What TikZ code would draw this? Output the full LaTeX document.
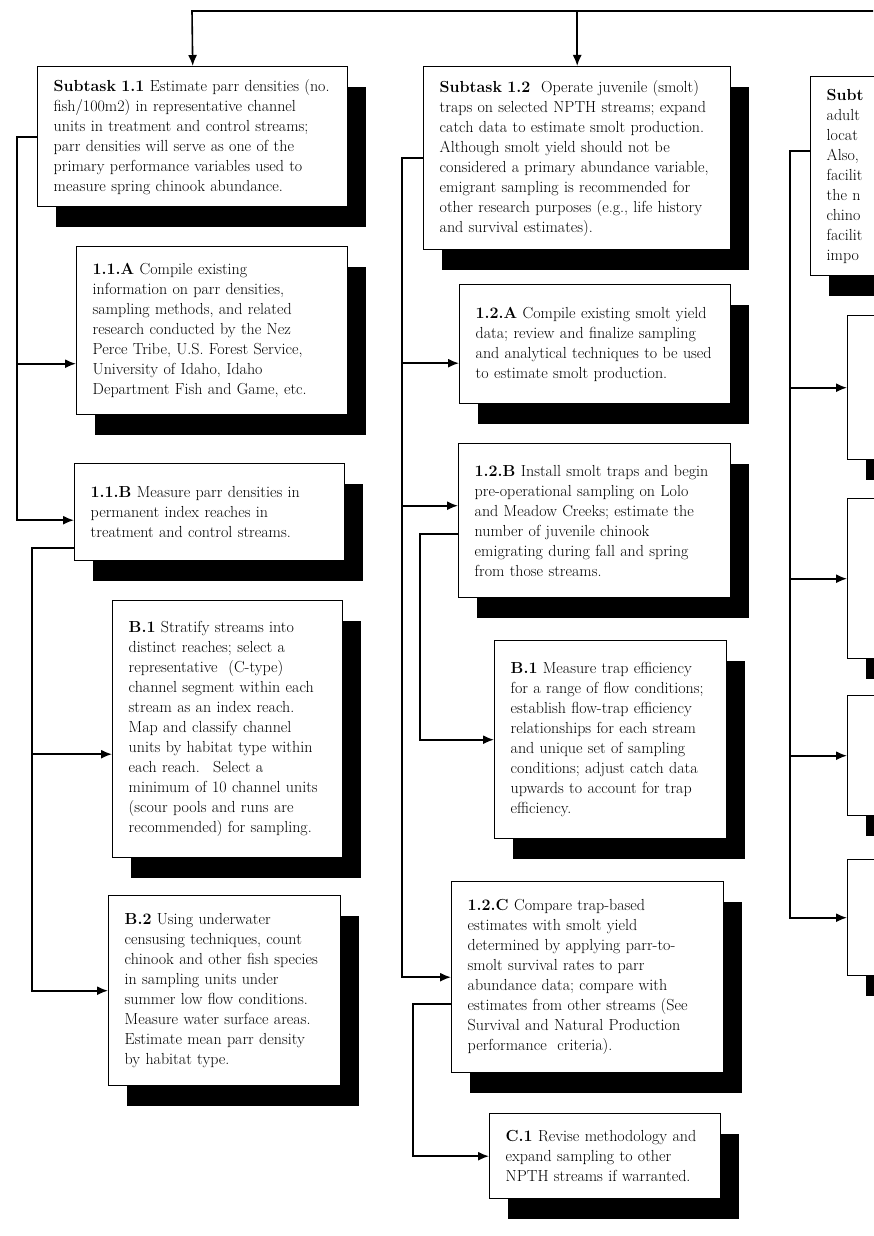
\documentclass[tikz,border=0pt]{standalone}
\usepackage{tikz}
\usetikzlibrary{arrows.meta,shadows}
\tikzstyle{taskbox} = [draw=black, fill=white, line width=1.4pt, rectangle, anchor=north west,
    inner xsep=16pt, inner ysep=6pt, align=left, font=\fontsize{16}{20}\selectfont,
    general shadow={fill=black, shadow xshift=18pt, shadow yshift=-20pt}]
\tikzstyle{link} = [line width=1.6pt]
\tikzstyle{feed} = [line width=1.6pt, -{Latex[length=11pt,width=9pt]}]

\begin{document}
\begin{tikzpicture}[x=1pt,y=-1pt]
\fill[white] (0,0) rectangle (873,1236);
\useasboundingbox (0,0) rectangle (873,1236);

\node[taskbox, text width=278pt, minimum height=140pt] (s11) at (37,66) {%
    \textbf{Subtask 1.1} Estimate parr densities (no.\\
    fish/100m2) in representative channel\\
    units in treatment and control streams;\\
    parr densities will serve as one of the\\
    primary performance variables used to\\
    measure spring chinook abundance.};
\node[taskbox, text width=239pt, minimum height=168pt] (a11) at (76,246) {%
    \textbf{1.1.A} Compile existing\\
    information on parr densities,\\
    sampling methods, and related\\
    research conducted by the Nez\\
    Perce Tribe, U.S. Forest Service,\\
    University of Idaho, Idaho\\
    Department Fish and Game, etc.};
\node[taskbox, text width=238pt, minimum height=97pt] (b11) at (74,463) {%
    \textbf{1.1.B} Measure parr densities in\\
    permanent index reaches in\\
    treatment and control streams.};
\node[taskbox, text width=198pt, minimum height=257pt] (b1) at (112,600) {%
    \textbf{B.1} Stratify streams into\\
    distinct reaches; select a\\
    representative \ (C-type)\\
    channel segment within each\\
    stream as an index reach.\\
    Map and classify channel\\
    units by habitat type within\\
    each reach. \ Select a\\
    minimum of 10 channel units\\
    (scour pools and runs are\\
    recommended) for sampling.};
\node[taskbox, text width=200pt, minimum height=190pt] (b2) at (108,895) {%
    \textbf{B.2} Using underwater\\
    censusing techniques, count\\
    chinook and other fish species\\
    in sampling units under\\
    summer low flow conditions.\\
    Measure water surface areas.\\
    Estimate mean parr density\\
    by habitat type.};

\node[taskbox, text width=275pt, minimum height=183pt] (s12) at (423,66) {%
    \textbf{Subtask 1.2} \ Operate juvenile (smolt)\\
    traps on selected NPTH streams; expand\\
    catch data to estimate smolt production.\\
    Although smolt yield should not be\\
    considered a primary abundance variable,\\
    emigrant sampling is recommended for\\
    other research purposes (e.g., life history\\
    and survival estimates).};
\node[taskbox, text width=239pt, minimum height=119pt] (a12) at (459,284) {%
    \textbf{1.2.A} Compile existing smolt yield\\
    data; review and finalize sampling\\
    and analytical techniques to be used\\
    to estimate smolt production.};
\node[taskbox, text width=240pt, minimum height=154pt] (b12) at (458,443) {%
    \textbf{1.2.B} Install smolt traps and begin\\
    pre-operational sampling on Lolo\\
    and Meadow Creeks; estimate the\\
    number of juvenile chinook\\
    emigrating during fall and spring\\
    from those streams.};
\node[taskbox, text width=200pt, minimum height=198pt] (tb1) at (494,640) {%
    \textbf{B.1} Measure trap efficiency\\
    for a range of flow conditions;\\
    establish flow-trap efficiency\\
    relationships for each stream\\
    and unique set of sampling\\
    conditions; adjust catch data\\
    upwards to account for trap\\
    efficiency.};
\node[taskbox, text width=240pt, minimum height=191pt] (c12) at (451,881) {%
    \textbf{1.2.C} Compare trap-based\\
    estimates with smolt yield\\
    determined by applying parr-to-\\
    smolt survival rates to parr\\
    abundance data; compare with\\
    estimates from other streams (See\\
    Survival and Natural Production\\
    performance \ criteria).};
\node[taskbox, text width=199pt, minimum height=85pt] (c1) at (489,1113) {%
    \textbf{C.1} Revise methodology and\\
    expand sampling to other\\
    NPTH streams if warranted.};

\node[taskbox, text width=88pt, minimum height=199pt] (s13) at (810,76) {%
    \textbf{Subt}\\ adult\\ locat\\ Also,\\ facilit\\ the n\\ chino\\ facilit\\ impo};
\node[taskbox, minimum width=60pt, minimum height=144pt] (r1) at (847,315) {};
\node[taskbox, minimum width=60pt, minimum height=160pt] (r2) at (847,498) {};
\node[taskbox, minimum width=60pt, minimum height=120pt] (r3) at (847,695) {};
\node[taskbox, minimum width=60pt, minimum height=116pt] (r4) at (847,859) {};

\coordinate (topL) at (192,11);
\coordinate (topR) at (873,11);
\draw[feed] (topR) -- (topL) -- (s11.north);
\draw[feed] (s12.north |- topL) -- (s12.north);

\coordinate (spA) at (17,0);
\coordinate (a11in) at ([yshift=-33pt]a11.west);
\coordinate (b11in) at ([yshift=-8pt]b11.west);
\draw[feed] (s11.west) -| (spA |- b11in) -- (b11in);
\draw[feed] (spA |- a11in) -- (a11in);

\coordinate (spB) at (32,0);
\coordinate (b11out) at ([yshift=-36pt]b11.west);
\coordinate (b1in) at ([yshift=-25pt]b1.west);
\draw[feed] (b11out) -| (spB |- b2.west) -- (b2.west);
\draw[feed] (spB |- b1in) -- (b1in);

\coordinate (spC) at (402,0);
\coordinate (a12in) at ([yshift=-19pt]a12.west);
\coordinate (b12in) at ([yshift=15pt]b12.west);
\draw[feed] (s12.west) -| (spC |- c12.west) -- (c12.west);
\draw[feed] (spC |- a12in) -- (a12in);
\draw[feed] (spC |- b12in) -- (b12in);

\coordinate (spD) at (420,0);
\coordinate (b12out) at ([yshift=-13pt]b12.west);
\draw[feed] (b12out) -| (spD |- tb1.west) -- (tb1.west);

\coordinate (spE) at (413,0);
\coordinate (c12out) at ([yshift=-27pt]c12.west);
\draw[feed] (c12out) -| (spE |- c1.west) -- (c1.west);

\coordinate (spF) at (790,0);
\coordinate (s13out) at ([yshift=25pt]s13.west);
\draw[feed] (s13out) -| (spF |- r4.west) -- (r4.west);
\foreach \r in {r1,r2,r3}
    \draw[feed] (spF |- \r.west) -- (\r.west);
\end{tikzpicture}
\end{document}
